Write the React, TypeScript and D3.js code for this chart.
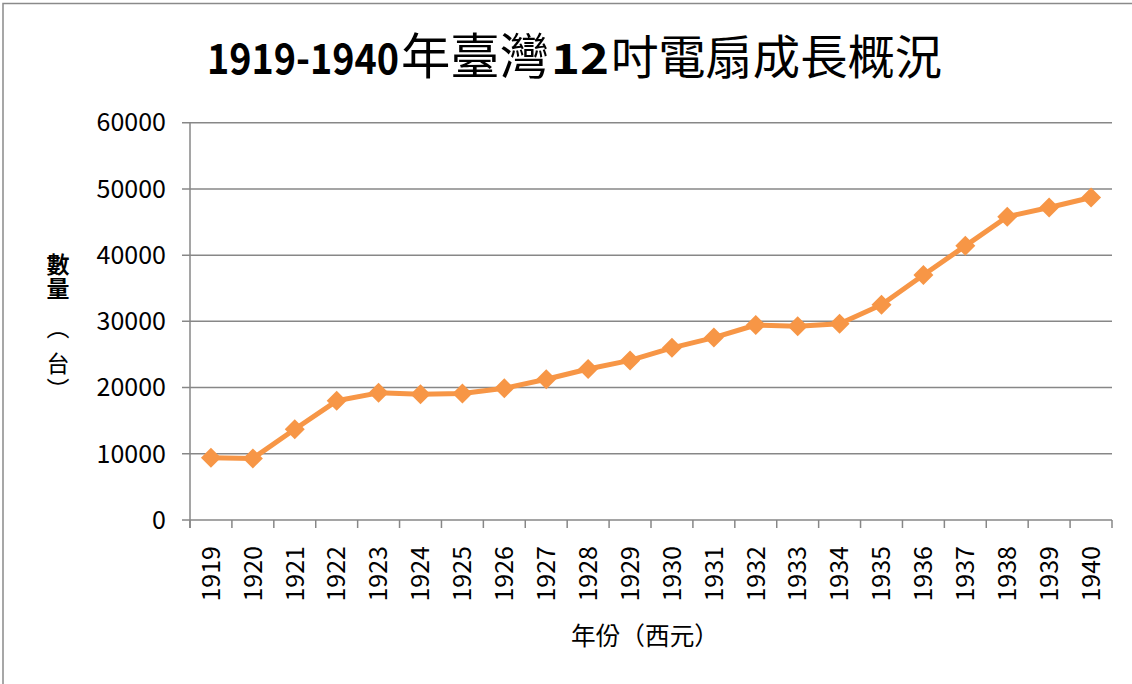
import React from "react";
import * as d3 from "d3";

const years = ["1919","1920","1921","1922","1923","1924","1925","1926","1927","1928","1929","1930","1931","1932","1933","1934","1935","1936","1937","1938","1939","1940"];
const counts = [9400,9300,13700,18000,19200,19000,19100,19900,21250,22800,24100,26000,27550,29450,29250,29650,32500,37000,41400,45800,47200,48700];
const yTicks = [0,10000,20000,30000,40000,50000,60000];
const titleParts = ["1919-1940", "年臺灣", "12", "吋電扇成長概況"];
const yLabelChars = ["數", "量", "︵", "台", "︶"];

const W = 1132, H = 684;
const CJK = "'Noto Sans CJK TC', 'Noto Sans CJK SC', sans-serif";

export default function App() {
  const x = d3.scaleBand<string>().domain(years).range([190, 1112]);
  const y = d3.scaleLinear().domain([0, 60000]).range([520, 122.7]);
  const line = d3.line<number>()
    .x((_, i) => (x(years[i]) as number) + x.bandwidth() / 2)
    .y((d) => y(d));
  const grid = "#878787";
  const orange = "#F79646";
  const boundaries = years.map((yr) => x(yr) as number).concat([1112]);
  const d = 10;
  const titleLayout = [
    { x: 207, len: 192, bold: true, fs: 42 },
    { x: 401, len: 148, bold: false, fs: 49 },
    { x: 551, len: 58, bold: true, fs: 42 },
    { x: 611, len: 331, bold: false, fs: 47 },
  ];
  const yLabelPos = [
    { y: 273, bold: true },
    { y: 297, bold: true },
    { y: 336, bold: false },
    { y: 372, bold: false },
    { y: 398, bold: false },
  ];
  return (
    <div style={{ position: "absolute", left: 0, top: 0 }}>
      <svg width={W} height={H} style={{ display: "block", background: "#fff" }}>
        <rect x={3} y={3.5} width={W + 20} height={H + 20} fill="#fff" stroke="#8a8a8a" strokeWidth={1.5} />
        {titleParts.map((p, i) => (
          <text key={i} x={titleLayout[i].x} y={74} fontSize={titleLayout[i].fs}
            fontWeight={titleLayout[i].bold ? 700 : 400} fontFamily={CJK} fill="#000"
            textLength={titleLayout[i].len} lengthAdjust="spacingAndGlyphs">{p}</text>
        ))}
        {yTicks.map((v) => (
          <g key={v}>
            <line x1={182} x2={1112} y1={y(v)} y2={y(v)} stroke={grid} strokeWidth={1.5} />
            <text x={166} y={y(v)} dy="0.35em" textAnchor="end" fontSize={25} fontFamily={CJK} fill="#000">{v}</text>
          </g>
        ))}
        <line x1={190} x2={190} y1={y(60000)} y2={528} stroke={grid} strokeWidth={1.5} />
        {boundaries.map((b, i) => (
          <line key={i} x1={b} x2={b} y1={520} y2={528} stroke={grid} strokeWidth={1.5} />
        ))}
        {years.map((yr) => {
          const cx = (x(yr) as number) + x.bandwidth() / 2;
          return (
            <text key={yr} transform={`translate(${cx},546) rotate(-90)`} dy="0.35em" textAnchor="end" fontSize={25} fontFamily={CJK} fill="#000">{yr}</text>
          );
        })}
        <text x={571} y={645} fontSize={25} fontFamily={CJK} fill="#000" textLength={148} lengthAdjust="spacingAndGlyphs">年份（西元）</text>
        {yLabelChars.map((c, i) => (
          <text key={i} x={58} y={yLabelPos[i].y} textAnchor="middle" fontSize={23} fontFamily={CJK}
            fontWeight={yLabelPos[i].bold ? 700 : 400} fill="#000">{c}</text>
        ))}
        <path d={line(counts) as string} fill="none" stroke={orange} strokeWidth={5} strokeLinejoin="round" />
        {counts.map((v, i) => {
          const cx = (x(years[i]) as number) + x.bandwidth() / 2;
          const cy = y(v);
          return <path key={i} d={`M${cx},${cy - d}L${cx + d},${cy}L${cx},${cy + d}L${cx - d},${cy}Z`} fill={orange} />;
        })}
      </svg>
    </div>
  );
}
